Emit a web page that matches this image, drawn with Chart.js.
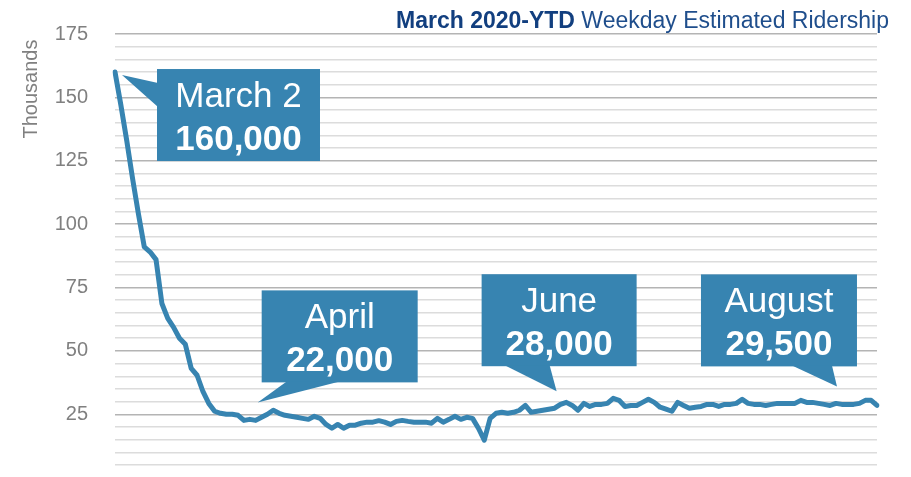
<!DOCTYPE html>
<html>
<head>
<meta charset="utf-8">
<script src="https://cdn.jsdelivr.net/npm/chart.js@4.4.0/dist/chart.umd.min.js"></script>
<style>
  html, body { margin: 0; padding: 0; background: #fff; overflow: hidden; }
  canvas { display: block; }
</style>
</head>
<body>
<canvas id="graficoRidership" width="911" height="477"></canvas>
<script>
// weekday estimated ridership, thousands
const ridership = [
  160, 147, 133, 118, 104, 91, 89, 86, 68.7, 62.8,
  59.3, 55, 52.6, 43.1, 40.4, 34, 29.3, 26.2, 25.4, 25,
  25, 24.6, 22.6, 23, 22.6, 23.8, 25, 26.6, 25.4, 24.6,
  24.2, 23.8, 23.4, 23, 24.2, 23.4, 21, 19.5, 21, 19.5,
  20.7, 20.7, 21.5, 21.9, 21.9, 22.5, 21.9, 21, 22.2, 22.6,
  22.2, 21.9, 21.9, 21.9, 21.5, 23.4, 21.9, 23, 24.2, 23,
  23.8, 23.4, 19.5, 14.8, 23.4, 25.4, 25.8, 25.4, 25.8, 26.6,
  28.5, 25.8, 26.2, 26.6, 27, 27.4, 28.9, 29.7, 28.5, 26.6,
  29.3, 28.1, 28.9, 28.9, 29.3, 31.3, 30.5, 28.1, 28.5, 28.5,
  29.7, 30.9, 29.7, 27.8, 27, 26.2, 29.7, 28.5, 27.4, 27.8,
  28.1, 28.9, 28.9, 28.1, 28.9, 28.9, 29.3, 30.9, 29.3, 28.9,
  28.9, 28.5, 28.9, 29.3, 29.3, 29.3, 29.3, 30.5, 29.7, 29.7,
  29.3, 28.9, 28.5, 29.3, 28.9, 28.9, 28.9, 29.3, 30.5, 30.5,
  28.5
];

const yTicks = [25, 50, 75, 100, 125, 150, 175];

// callouts
const calloutTitles = ['March 2', 'April', 'June', 'August'];
const calloutValues = ['160,000', '22,000', '28,000', '29,500'];
const calloutIndex = [0, 24, 75, 123];

// weekday labels from March 2, 2020
const dias = [];
const d = new Date(2020, 2, 2);
while (dias.length < ridership.length) {
  const wd = d.getDay();
  if (wd !== 0 && wd !== 6) dias.push((d.getMonth() + 1) + '/' + d.getDate());
  d.setDate(d.getDate() + 1);
}

const azul = '#3784b1';
const fonte = "'Liberation Sans', Arial, sans-serif";

// pixel layout of each callout box, relative to the pointer tip
const caixas = [
  { tipDx: 7, tipDy: 3, left: 35, top: -6, w: 163, h: 92, lado: 'left', b1: 14, b2: 38 },
  { tipDx: 2, tipDy: -18, left: 4, top: -112, w: 156, h: 92, lado: 'bottom', b1: 25, b2: 78 },
  { tipDx: 2, tipDy: -17, left: -75, top: -117, w: 155, h: 92, lado: 'bottom', b1: 23, b2: 68 },
  { tipDx: 1, tipDy: -17, left: -136, top: -112, w: 156, h: 92, lado: 'bottom', b1: 91, b2: 131 }
];

const calloutPlugin = {
  id: 'callouts',
  afterDatasetsDraw(chart) {
    const { ctx, scales: { x, y } } = chart;
    ctx.save();
    calloutIndex.forEach((idx, k) => {
      const c = caixas[k];
      const tx = x.getPixelForValue(idx) + c.tipDx;
      const ty = y.getPixelForValue(ridership[idx]) + c.tipDy;
      const bx = tx + c.left, by = ty + c.top;
      ctx.fillStyle = azul;
      ctx.fillRect(bx, by, c.w, c.h);
      ctx.beginPath();
      if (c.lado === 'left') {
        ctx.moveTo(bx + 1, by + c.b1);
        ctx.lineTo(tx, ty);
        ctx.lineTo(bx + 1, by + c.b2);
      } else {
        ctx.moveTo(bx + c.b1, by + c.h - 1);
        ctx.lineTo(tx, ty);
        ctx.lineTo(bx + c.b2, by + c.h - 1);
      }
      ctx.closePath();
      ctx.fill();

      ctx.fillStyle = '#fff';
      ctx.textAlign = 'center';
      ctx.textBaseline = 'alphabetic';
      ctx.font = '35px ' + fonte;
      ctx.fillText(calloutTitles[k], bx + c.w / 2, by + 38);
      ctx.font = 'bold 35px ' + fonte;
      ctx.fillText(calloutValues[k], bx + c.w / 2, by + 81);
    });
    ctx.restore();
  }
};

const tituloPlugin = {
  id: 'titulo',
  afterDraw(chart) {
    const ctx = chart.ctx;
    const negrito = 'March 2020-YTD';
    const normal = ' Weekday Estimated Ridership';
    ctx.save();
    ctx.textBaseline = 'alphabetic';
    ctx.textAlign = 'left';
    ctx.font = '23px ' + fonte;
    const wN = ctx.measureText(normal).width;
    ctx.font = 'bold 23px ' + fonte;
    const wB = ctx.measureText(negrito).width;
    const x0 = 889 - wN - wB;
    ctx.fillStyle = '#123f7f';
    ctx.fillText(negrito, x0, 28);
    ctx.font = '23px ' + fonte;
    ctx.fillStyle = '#1f4e8c';
    ctx.fillText(normal, x0 + wB, 28);

    // axis unit, rotated
    ctx.translate(37, 89);
    ctx.rotate(-Math.PI / 2);
    ctx.textAlign = 'center';
    ctx.font = '20px ' + fonte;
    ctx.fillStyle = '#808080';
    ctx.fillText('Thousands', 0, 0);
    ctx.restore();
  }
};

const ctx = document.getElementById('graficoRidership').getContext('2d');

new Chart(ctx, {
  type: 'line',
  data: {
    labels: dias,
    datasets: [{
      label: 'Weekday Estimated Ridership',
      data: ridership,
      borderColor: azul,
      borderWidth: 5,
      borderJoinStyle: 'round',
      borderCapStyle: 'round',
      pointRadius: 0,
      tension: 0,
      fill: false
    }]
  },
  options: {
    responsive: false,
    animation: false,
    layout: { padding: { left: 0, top: 34, right: 34, bottom: 11 } },
    plugins: {
      legend: { display: false },
      tooltip: { enabled: false }
    },
    scales: {
      x: { display: false, offset: false },
      y: {
        min: 5,
        max: 175,
        border: { display: false },
        grid: {
          drawTicks: true,
          tickLength: 27,
          tickColor: 'rgba(0,0,0,0)',
          lineWidth: 1.5,
          color: c => (c.tick && c.tick.value % 25 === 0) ? '#b4b4b4' : '#dcdcdc'
        },
        ticks: {
          stepSize: 5,
          autoSkip: false,
          padding: 0,
          color: '#808080',
          font: { size: 20, family: fonte },
          callback: v => yTicks.includes(v) ? v : ''
        },
        afterFit: s => { s.width = 115; }
      }
    }
  },
  plugins: [calloutPlugin, tituloPlugin]
});
</script>
</body>
</html>
